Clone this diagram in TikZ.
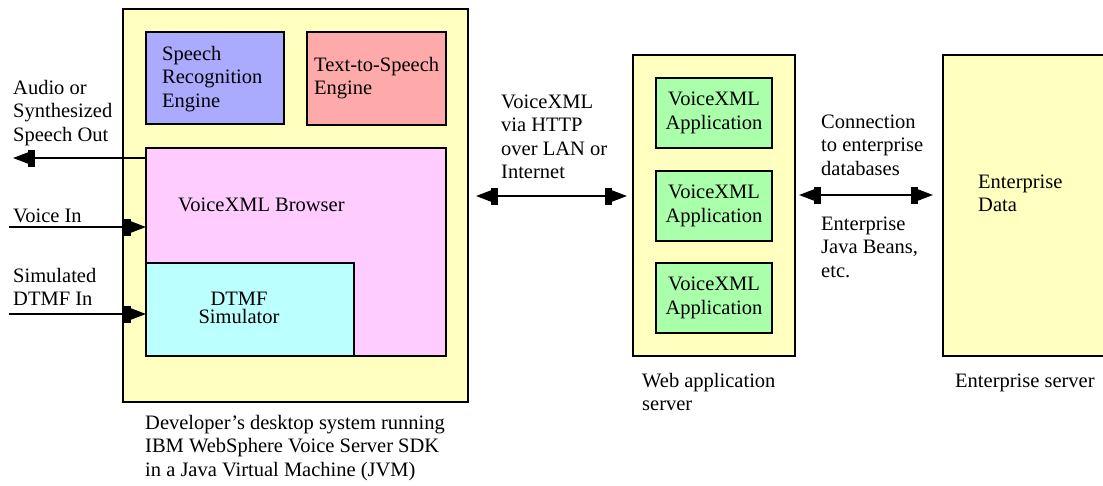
\documentclass[tikz,border=0pt]{standalone}
\usepackage{fontspec}
\setmainfont{Liberation Serif}
\usetikzlibrary{arrows.meta}
\definecolor{bgyellow}{HTML}{FFFFC0}
\definecolor{srblue}{HTML}{AAAAFF}
\definecolor{ttsred}{HTML}{FFAAAA}
\definecolor{brpink}{HTML}{FFCCFF}
\definecolor{dtcyan}{HTML}{BBFFFF}
\definecolor{apgreen}{HTML}{AAFFAA}
\newcommand\mlines[1]{\begin{tabular}[t]{@{}l@{}}#1\end{tabular}}
\newcommand\fsz{\fontsize{20.5}{23.5}\selectfont}
\begin{document}
\begin{tikzpicture}[x=1pt,y=-1pt,
  box/.style={draw=black, line width=1.3pt, inner sep=0pt, outer sep=0pt, anchor=north west},
  txt/.style={inner sep=0pt, anchor=base west, font=\fsz},
  conn/.style={draw=black, line width=1.5pt},
  plugend/.style={-{Rectangle[length=7pt,width=17pt,sep=0pt] Triangle[length=15pt,width=11pt,sep=0pt]}},
  plugboth/.style={{Triangle[length=15pt,width=11pt,sep=0pt] Rectangle[length=7pt,width=17pt,sep=0pt]}-{Rectangle[length=7pt,width=17pt,sep=0pt] Triangle[length=15pt,width=11pt,sep=0pt]}}
]
\useasboundingbox (0,0) rectangle (1103,485);

% desktop system
\node[box, fill=bgyellow, minimum width=345pt, minimum height=393pt] (desk) at (123,9) {};
\node[box, fill=srblue, minimum width=138pt, minimum height=92pt] (sr) at (146,32) {};
\node[box, fill=ttsred, minimum width=139pt, minimum height=93pt] (tts) at (307,32) {};
\node[box, fill=brpink, minimum width=300pt, minimum height=208pt] (browser) at (146,148) {};
\node[box, fill=dtcyan, minimum width=208pt, minimum height=93pt] (dtmf) at (146,263) {};

\node[txt] (tsr) at (162,60) {\mlines{Speech\\Recognition\\Engine}};
\node[txt] (ttts) at (314,71) {\mlines{Text-to-Speech\\Engine}};
\node[txt] (tbr) at (178,211) {VoiceXML Browser};
\node[inner sep=0pt, anchor=base, font=\fsz] (tdtmf) at (239,305) {\begin{tabular}[t]{@{}c@{}}DTMF\\[-5pt]Simulator\end{tabular}};
\node[txt] (tdesk) at (145,429) {\mlines{Developer’s desktop system running\\IBM WebSphere Voice Server SDK\\in a Java Virtual Machine (JVM)}};

% web application server
\node[box, fill=bgyellow, minimum width=162pt, minimum height=301pt] (web) at (633,55) {};
\node[box, fill=apgreen, minimum width=116pt, minimum height=70pt, align=center, font=\fsz] (app1) at (656,78) {VoiceXML\\Application};
\node[box, fill=apgreen, minimum width=116pt, minimum height=70pt, align=center, font=\fsz] (app2) at (656,171) {VoiceXML\\Application};
\node[box, fill=apgreen, minimum width=116pt, minimum height=70pt, align=center, font=\fsz] (app3) at (656,263) {VoiceXML\\Application};
\node[txt] (tweb) at (642,387) {\mlines{Web application\\server}};

% enterprise server
\node[box, fill=bgyellow, minimum width=172pt, minimum height=301pt] (ent) at (943,55) {};
\node[txt] (tentd) at (978,188) {\mlines{Enterprise\\Data}};
\node[txt] (tent) at (955,387) {Enterprise server};

% left side texts
\node[txt] (taudio) at (13,94) {\mlines{Audio or\\Synthesized\\Speech Out}};
\node[txt] (tvin) at (13,222) {Voice In};
\node[txt] (tdin) at (13,282) {\mlines{Simulated\\DTMF In}};

% middle texts
\node[txt] (tnet) at (501,108) {\mlines{VoiceXML\\via HTTP\\over LAN or\\Internet}};
\node[txt] (tconn) at (821,128) {\mlines{Connection\\to enterprise\\databases}};
\node[txt] (tejb) at (821,230) {\mlines{Enterprise\\Java Beans,\\etc.}};

% connectors
\coordinate (aout) at (13,158);
\coordinate (vin) at (9,227);
\coordinate (din) at (9,314);
\coordinate (net) at (0,196);
\coordinate (db) at (0,195);
\draw[conn, plugend] (aout -| browser.west) -- (aout);
\draw[conn, plugend] (vin) -- (vin -| browser.west);
\draw[conn, plugend] (din) -- (din -| dtmf.west);
\draw[conn, plugboth, shorten <=8pt, shorten >=6pt] (net -| desk.east) -- (net -| web.west);
\draw[conn, plugboth, shorten <=4pt, shorten >=10pt] (db -| web.east) -- (db -| ent.west);
\end{tikzpicture}
\end{document}
